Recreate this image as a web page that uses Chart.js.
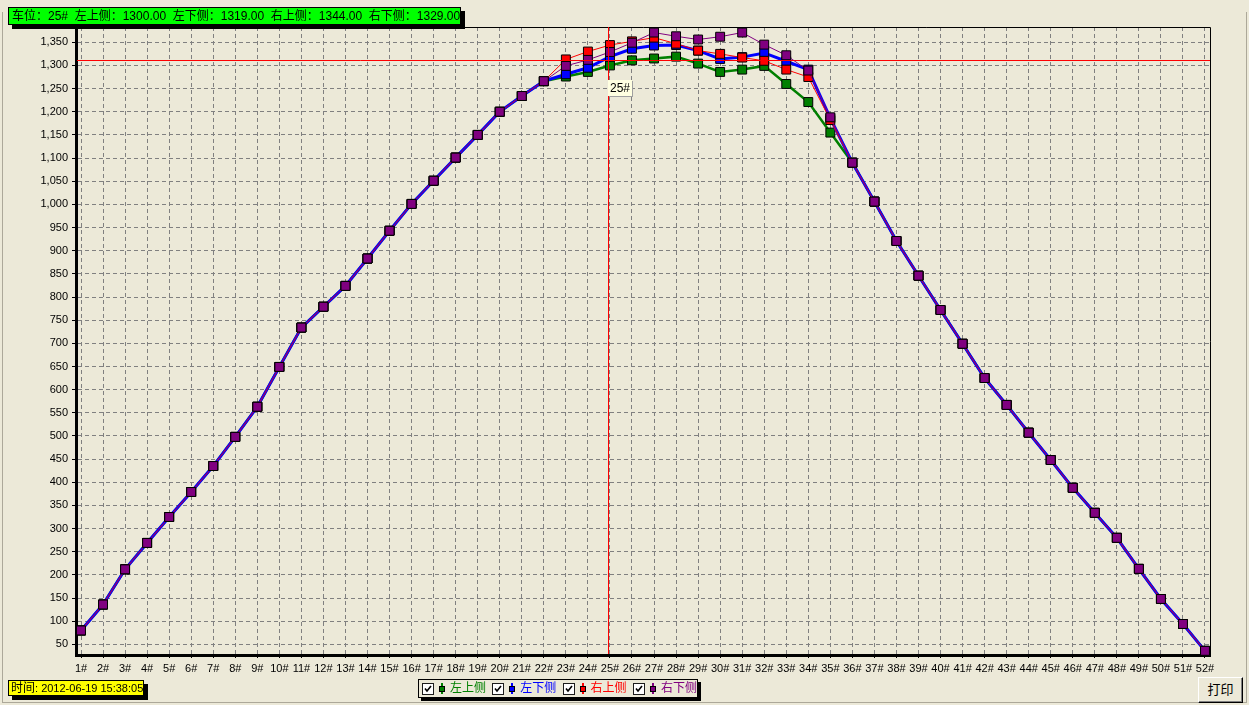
<!DOCTYPE html>
<html>
<head>
<meta charset="utf-8">
<script src="https://cdn.jsdelivr.net/npm/chart.js@4.4.0/dist/chart.umd.min.js"></script>
<style>
    html, body { margin: 0; padding: 0; background: #ECE9D8; }
    body { width: 1249px; height: 705px; position: relative; overflow: hidden;
           font-family: "Liberation Sans", "Noto Sans CJK SC", sans-serif; }
    #frame { position: absolute; left: 2px; top: 12px; width: 1243px; height: 690px;
             border: 1px solid #ACA899; border-top: none; }
    #chartBox { position: absolute; left: 0; top: 0; width: 1249px; height: 705px; }
    .tag { position: absolute; border: 1px solid #000; box-shadow: 4px 4px 0 #000; white-space: pre; color: #000; }
    #info { left: 8px; top: 7px; width: 448px; height: 16px; line-height: 16px; background: #00FF00;
            font-size: 12px; padding-left: 3px; }
    #time { left: 8px; top: 680px; width: 132px; height: 14px; line-height: 14px; background: #FFFF00;
            font-size: 11px; padding-left: 2px; }
    #time b { font-weight: normal; font-size: 12px; }
    #legend { position: absolute; left: 418px; top: 679px; width: 278px; height: 17px;
              border: 1px solid #000; box-shadow: 3px 3px 0 #000; background: #ECE9D8; }
    #legend .cb { position: absolute; top: 3px; width: 10px; height: 10px; background: #fff; border: 1px solid #1C1C1C; }
    #legend .cb svg { position: absolute; left: 0; top: 0; }
    #legend .ico { position: absolute; top: 3px; width: 2px; height: 11px; }
    #legend .ico i { position: absolute; left: -2px; top: 3px; width: 4px; height: 4px; border: 1px solid #000; }
    #legend .txt { position: absolute; top: 0; font-size: 12px; line-height: 17px; }
    #tip { position: absolute; left: 608px; top: 80px; width: 22px; height: 16px; background: #FFFFE1;
           box-shadow: 1px 1px 0 #A0A0A0; font-size: 12px; line-height: 16px; padding-left: 2px; }
    #printBtn { position: absolute; left: 1198px; top: 677px; width: 43px; height: 24px; background: #ECE9D8;
                border: 1px solid; border-color: #fff #000 #000 #fff; box-shadow: inset -1px -1px 0 #808080;
                font-size: 13px; line-height: 24px; text-align: center; }
</style>
</head>
<body>
<div id="frame"></div>
<div id="chartBox"><canvas id="mainChart" width="1249" height="705"></canvas></div>
<div id="info" class="tag"></div>
<div id="time" class="tag"></div>
<div id="legend"></div>
<div id="tip"></div>
<div id="printBtn">打印</div>
<script>
// car positions along the x axis
const categories = ['1#', '2#', '3#', '4#', '5#', '6#', '7#', '8#', '9#', '10#',
    '11#', '12#', '13#', '14#', '15#', '16#', '17#', '18#', '19#', '20#',
    '21#', '22#', '23#', '24#', '25#', '26#', '27#', '28#', '29#', '30#',
    '31#', '32#', '33#', '34#', '35#', '36#', '37#', '38#', '39#', '40#',
    '41#', '42#', '43#', '44#', '45#', '46#', '47#', '48#', '49#', '50#',
    '51#', '52#'];

const seriesNames = ['左上侧', '左下侧', '右上侧', '右下侧'];
const seriesColors = ['#008000', '#0000FF', '#FF0000', '#800080'];

// measured values per side
const leftUpper = [80, 136, 212, 269, 325, 379, 435, 498, 563, 649,
    734, 779, 824, 883, 943, 1001, 1051, 1101, 1150, 1200,
    1234, 1266, 1276, 1286, 1300, 1311, 1315, 1319, 1304, 1286,
    1291, 1299, 1260, 1221, 1155, 1090, 1006, 921, 846, 772,
    699, 625, 567, 507, 448, 388, 334, 280, 213, 148,
    94, 36];
const leftLower = [80, 136, 212, 269, 325, 379, 435, 498, 563, 649,
    734, 779, 824, 883, 943, 1001, 1051, 1101, 1150, 1200,
    1234, 1266, 1281, 1295, 1319, 1336, 1343, 1344, 1332, 1314,
    1318, 1327, 1309, 1291, 1186, 1090, 1006, 921, 846, 772,
    699, 625, 567, 507, 448, 388, 334, 280, 213, 148,
    94, 36];
const rightUpper = [80, 136, 212, 269, 325, 379, 435, 498, 563, 649,
    734, 779, 824, 883, 943, 1001, 1051, 1101, 1150, 1200,
    1234, 1266, 1313, 1330, 1344, 1352, 1360, 1347, 1332, 1325,
    1317, 1310, 1291, 1275, 1182, 1090, 1006, 921, 846, 772,
    699, 625, 567, 507, 448, 388, 334, 280, 213, 148,
    94, 36];
const rightLower = [80, 136, 212, 269, 325, 379, 435, 498, 563, 649,
    734, 779, 824, 883, 943, 1001, 1051, 1101, 1150, 1200,
    1234, 1266, 1299, 1312, 1329, 1349, 1371, 1363, 1356, 1362,
    1371, 1345, 1322, 1289, 1188, 1090, 1006, 921, 846, 772,
    699, 625, 567, 507, 448, 388, 334, 280, 213, 148,
    94, 36];

const yTickValues = [50, 100, 150, 200, 250, 300, 350, 400, 450, 500, 550, 600, 650,
    700, 750, 800, 850, 900, 950, 1000, 1050, 1100, 1150, 1200, 1250, 1300, 1350];

const selectedIndex = 24;      // 25#
const crossX = 24.9;           // crosshair position (axis units)
const crossY = 1312;
const timeText = '2012-06-19 15:38:05';

(function () {
    const allSeries = [leftUpper, leftLower, rightUpper, rightLower];
    const lineWidths = [2.5, 3, 1, 1];

    // header box with the values of the selected position
    let head = '车位：' + categories[selectedIndex];
    seriesNames.forEach((n, i) => {
        head += '  ' + n + '：' + allSeries[i][selectedIndex].toFixed(2);
    });
    document.getElementById('info').textContent = head;
    document.getElementById('time').innerHTML = '<b>时间</b>: ' + timeText;
    document.getElementById('tip').textContent = categories[selectedIndex];

    // legend with checkboxes
    const legend = document.getElementById('legend');
    seriesNames.forEach((n, i) => {
        const off = 3 + i * 70.3;
        legend.insertAdjacentHTML('beforeend',
            `<span class="cb" style="left:${off}px"><svg width="10" height="10"><polyline points="2,4.5 4,7 8,2" fill="none" stroke="#000" stroke-width="1.6"/></svg></span>` +
            `<span class="ico" style="left:${off + 19}px;background:${seriesColors[i]}"><i style="background:${seriesColors[i]}"></i></span>` +
            `<span class="txt" style="left:${off + 28}px;color:${seriesColors[i]}">${n}</span>`);
    });

    // plot frame: thin top and right edges
    const framePlugin = {
        id: 'frameLines',
        beforeDatasetsDraw(chart) {
            const { ctx, chartArea: a } = chart;
            ctx.save();
            ctx.strokeStyle = '#000';
            ctx.lineWidth = 1;
            ctx.beginPath();
            ctx.moveTo(a.left, a.top + 0.5);
            ctx.lineTo(a.right + 0.5, a.top + 0.5);
            ctx.lineTo(a.right + 0.5, a.bottom);
            ctx.stroke();
            ctx.restore();
        }
    };

    // red crosshair
    const crosshairPlugin = {
        id: 'crosshair',
        afterDatasetsDraw(chart) {
            const { ctx, chartArea: a, scales } = chart;
            const px = Math.round(scales.x.getPixelForValue(crossX)) + 0.5;
            const py = Math.round(scales.y.getPixelForValue(crossY)) + 0.5;
            ctx.save();
            ctx.strokeStyle = '#FF0000';
            ctx.lineWidth = 1;
            ctx.beginPath();
            ctx.moveTo(px, a.top);
            ctx.lineTo(px, a.bottom - 1);
            ctx.moveTo(a.left + 1, py);
            ctx.lineTo(a.right, py);
            ctx.stroke();
            ctx.restore();
        }
    };

    const datasets = seriesNames.map((n, i) => ({
        label: n,
        data: allSeries[i].map((v, k) => ({ x: k + 1, y: v })),
        borderColor: seriesColors[i],
        backgroundColor: seriesColors[i],
        borderWidth: lineWidths[i],
        pointStyle: 'rect',
        pointRadius: 6.3,
        pointBorderWidth: 1,
        pointBorderColor: '#000',
        pointBackgroundColor: seriesColors[i],
        tension: 0,
        clip: false,
        order: 4 - i
    }));

    const ctx = document.getElementById('mainChart').getContext('2d');
    new Chart(ctx, {
        type: 'line',
        data: { datasets: datasets },
        plugins: [framePlugin, crosshairPlugin],
        options: {
            responsive: false,
            animation: false,
            layout: { padding: { left: 0, top: 27, right: 39, bottom: 30 } },
            plugins: { legend: { display: false }, tooltip: { enabled: false }, title: { display: false } },
            font: { family: '"Liberation Sans", "Noto Sans CJK SC", sans-serif' },
            scales: {
                x: {
                    type: 'linear',
                    min: 0.773,
                    max: 52.227,
                    bounds: 'data',
                    afterFit: s => { s.height = 20; },
                    afterBuildTicks: s => { s.ticks = categories.map((c, k) => ({ value: k + 1 })); },
                    ticks: {
                        autoSkip: false, maxRotation: 0, minRotation: 0, padding: 4,
                        color: '#000', font: { size: 11, family: '"Liberation Sans", sans-serif' },
                        callback: v => categories[Math.round(v) - 1]
                    },
                    grid: { color: '#808080', lineWidth: 1, drawTicks: true, tickLength: 3, tickColor: '#000', tickWidth: 1 },
                    border: { color: '#000', width: 3, dash: [4, 3] }
                },
                y: {
                    type: 'linear',
                    min: 27,
                    max: 1383,
                    bounds: 'data',
                    afterFit: s => { s.width = 76; },
                    afterBuildTicks: s => { s.ticks = yTickValues.map(v => ({ value: v })); },
                    ticks: {
                        padding: 4, color: '#000', font: { size: 11, family: '"Liberation Sans", sans-serif' },
                        callback: v => Number(v).toLocaleString('en-US')
                    },
                    grid: { color: '#808080', lineWidth: 1, drawTicks: true, tickLength: 4, tickColor: '#000', tickWidth: 1 },
                    border: { color: '#000', width: 3, dash: [4, 3] }
                }
            }
        }
    });
})();
</script>
</body>
</html>
